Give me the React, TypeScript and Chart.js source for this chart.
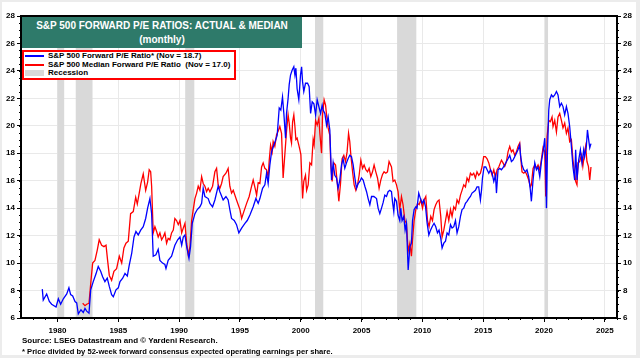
import React, { useEffect, useRef } from "react";
import { Chart, registerables } from "chart.js";

Chart.register(...registerables);

// S&P 500 forward P/E (actual), [decimal year, value]
const forwardPE: [number, number][] = [
  [1978.75,8.1],[1978.83,7.3],[1979.11,7.75],[1979.33,7.2],[1979.52,7.0],[1979.88,6.8],[1980.07,7.4],[1980.26,7.0],[1980.48,7.4],[1980.76,7.75],[1980.94,8.2],[1981.08,7.7],[1981.25,7.6],[1981.44,7.2],[1981.58,7.1],[1981.71,6.3],[1981.93,6.6],[1982.12,6.4],[1982.26,6.7],[1982.40,6.5],[1982.59,6.35],[1982.73,8.05],[1982.94,8.65],[1983.16,9.2],[1983.35,9.75],[1983.55,9.4],[1983.71,9.0],[1983.90,8.65],[1984.09,8.9],[1984.26,8.3],[1984.45,7.7],[1984.59,7.55],[1984.81,8.05],[1985.00,8.2],[1985.14,8.65],[1985.36,8.9],[1985.55,9.25],[1985.74,9.05],[1985.90,9.85],[1986.10,10.7],[1986.29,11.9],[1986.45,12.3],[1986.64,12.05],[1986.84,12.4],[1987.05,12.65],[1987.25,13.25],[1987.41,14.0],[1987.60,14.7],[1987.74,13.6],[1987.87,10.5],[1988.09,10.6],[1988.28,11.0],[1988.42,10.2],[1988.64,10.0],[1988.83,9.9],[1988.92,9.6],[1989.10,10.2],[1989.38,10.5],[1989.65,11.3],[1989.88,11.7],[1990.07,11.9],[1990.21,11.3],[1990.34,11.9],[1990.48,12.05],[1990.62,11.2],[1990.81,10.35],[1990.94,11.2],[1991.08,12.9],[1991.30,13.6],[1991.49,13.9],[1991.71,14.1],[1991.85,14.35],[1991.98,15.45],[1992.12,14.85],[1992.39,14.7],[1992.53,14.35],[1992.75,14.1],[1992.94,14.6],[1993.21,15.6],[1993.35,15.2],[1993.62,14.6],[1993.85,14.85],[1994.03,14.6],[1994.17,13.9],[1994.31,13.25],[1994.53,13.1],[1994.72,12.8],[1994.91,12.2],[1995.14,12.55],[1995.41,12.9],[1995.60,13.1],[1995.82,13.5],[1996.09,14.1],[1996.31,14.7],[1996.50,14.35],[1996.64,14.7],[1996.86,15.45],[1997.05,15.7],[1997.19,16.55],[1997.32,15.8],[1997.46,17.15],[1997.60,18.1],[1997.79,18.6],[1997.93,18.95],[1998.06,19.3],[1998.23,21.3],[1998.36,21.15],[1998.50,22.1],[1998.61,20.9],[1998.75,19.1],[1998.83,20.9],[1998.96,22.0],[1999.05,23.0],[1999.16,23.7],[1999.29,24.05],[1999.43,24.3],[1999.52,23.7],[1999.60,24.2],[1999.70,22.7],[1999.84,21.9],[1999.98,23.7],[2000.07,24.3],[2000.15,23.2],[2000.25,22.5],[2000.39,23.1],[2000.56,23.1],[2000.69,22.85],[2000.81,20.9],[2000.94,21.75],[2001.08,21.6],[2001.22,20.8],[2001.35,21.9],[2001.49,21.4],[2001.63,20.9],[2001.76,21.5],[2001.84,21.15],[2001.98,20.9],[2002.12,20.05],[2002.25,20.65],[2002.39,19.7],[2002.53,16.05],[2002.66,17.3],[2002.80,16.4],[2002.94,16.2],[2003.07,15.45],[2003.21,16.05],[2003.35,17.15],[2003.48,17.6],[2003.62,16.9],[2003.76,17.3],[2003.89,17.6],[2004.03,17.85],[2004.17,17.75],[2004.31,17.15],[2004.45,16.2],[2004.58,15.45],[2004.72,15.8],[2004.86,15.95],[2004.99,16.2],[2005.13,16.05],[2005.27,15.6],[2005.41,15.2],[2005.54,14.7],[2005.68,14.25],[2005.82,14.85],[2006.01,14.85],[2006.23,14.7],[2006.36,14.0],[2006.50,13.6],[2006.64,14.0],[2006.77,14.4],[2006.91,14.95],[2007.05,14.85],[2007.18,15.2],[2007.32,15.3],[2007.46,15.2],[2007.54,14.5],[2007.65,13.75],[2007.73,14.7],[2007.87,14.5],[2008.00,13.5],[2008.14,13.1],[2008.22,14.0],[2008.33,13.1],[2008.47,13.4],[2008.58,12.4],[2008.69,12.9],[2008.83,9.5],[2008.97,11.2],[2009.10,11.45],[2009.19,13.1],[2009.32,13.9],[2009.46,14.1],[2009.56,14.0],[2009.70,15.1],[2009.84,14.7],[2009.98,14.35],[2010.12,14.6],[2010.26,14.1],[2010.39,12.9],[2010.53,12.05],[2010.67,12.4],[2010.80,12.65],[2010.96,12.9],[2011.10,12.65],[2011.24,12.2],[2011.37,12.4],[2011.51,11.8],[2011.62,11.1],[2011.76,11.45],[2011.90,11.6],[2012.03,12.2],[2012.17,12.05],[2012.31,12.8],[2012.44,12.55],[2012.58,12.65],[2012.72,13.1],[2012.85,12.2],[2012.99,12.65],[2013.13,13.4],[2013.26,13.9],[2013.40,14.0],[2013.54,14.35],[2013.67,14.5],[2013.81,14.7],[2013.95,14.85],[2014.08,15.1],[2014.22,15.2],[2014.36,15.3],[2014.49,15.55],[2014.63,15.55],[2014.77,14.6],[2014.86,15.3],[2014.94,16.2],[2015.07,17.0],[2015.21,17.0],[2015.32,16.8],[2015.46,16.55],[2015.60,16.8],[2015.73,16.55],[2015.87,15.95],[2016.01,16.4],[2016.09,15.1],[2016.22,16.8],[2016.36,16.9],[2016.50,16.8],[2016.63,16.95],[2016.77,17.15],[2016.91,17.4],[2017.04,17.6],[2017.18,17.85],[2017.32,17.4],[2017.45,17.5],[2017.59,17.75],[2017.73,18.0],[2017.86,18.25],[2018.00,18.6],[2018.08,17.75],[2018.19,17.15],[2018.33,16.8],[2018.47,16.65],[2018.60,16.8],[2018.74,16.3],[2018.88,15.3],[2018.96,14.5],[2019.10,16.05],[2019.24,17.3],[2019.38,16.8],[2019.51,17.0],[2019.65,16.3],[2019.79,17.4],[2019.92,18.1],[2020.06,19.1],[2020.14,17.3],[2020.20,14.0],[2020.28,18.0],[2020.39,21.15],[2020.47,21.9],[2020.61,22.25],[2020.74,22.1],[2020.88,22.25],[2021.02,22.5],[2021.15,22.25],[2021.29,21.4],[2021.43,21.65],[2021.56,21.4],[2021.70,20.8],[2021.84,21.4],[2021.97,20.9],[2022.11,19.95],[2022.25,18.5],[2022.38,17.0],[2022.52,16.05],[2022.60,18.25],[2022.71,16.05],[2022.85,17.5],[2022.99,18.25],[2023.12,17.3],[2023.26,18.25],[2023.34,17.75],[2023.48,18.5],[2023.57,19.7],[2023.67,19.0],[2023.76,18.4],[2023.86,18.7],
];

// S&P 500 median forward P/E, [decimal year, value]
const medianPE: [number, number][] = [
  [1982.07,7.07],[1982.26,6.9],[1982.40,7.0],[1982.59,7.07],[1982.73,8.5],[1982.89,10.0],[1983.08,10.2],[1983.27,10.95],[1983.43,11.7],[1983.63,11.3],[1983.82,11.2],[1983.99,11.3],[1984.12,10.2],[1984.26,9.1],[1984.45,8.75],[1984.64,9.4],[1984.86,9.6],[1985.08,10.5],[1985.28,10.0],[1985.46,11.1],[1985.63,11.45],[1985.82,11.6],[1986.01,13.6],[1986.23,13.75],[1986.43,14.8],[1986.56,14.3],[1986.72,15.1],[1986.86,15.8],[1987.05,16.5],[1987.25,15.3],[1987.41,15.9],[1987.54,16.8],[1987.66,16.65],[1987.74,15.6],[1987.87,12.2],[1988.01,12.65],[1988.15,12.3],[1988.28,11.9],[1988.42,12.2],[1988.56,11.7],[1988.69,11.9],[1988.83,12.2],[1988.97,11.45],[1989.10,11.8],[1989.24,11.7],[1989.38,12.2],[1989.52,12.4],[1989.65,13.25],[1989.79,13.1],[1989.93,12.8],[1990.07,13.1],[1990.21,12.2],[1990.34,12.55],[1990.48,12.9],[1990.62,11.45],[1990.75,10.6],[1990.89,11.2],[1991.03,13.1],[1991.16,13.9],[1991.30,14.7],[1991.44,15.1],[1991.57,15.6],[1991.71,15.3],[1991.85,16.3],[1991.98,15.8],[1992.12,15.6],[1992.26,15.2],[1992.39,15.45],[1992.53,15.2],[1992.75,15.6],[1992.94,16.65],[1993.08,16.9],[1993.21,15.7],[1993.35,15.45],[1993.49,15.8],[1993.62,16.3],[1993.85,16.55],[1994.03,16.9],[1994.17,15.6],[1994.31,15.1],[1994.45,15.3],[1994.72,14.6],[1995.00,13.9],[1995.14,13.25],[1995.32,13.75],[1995.55,14.35],[1995.76,14.85],[1995.96,15.6],[1996.09,16.05],[1996.29,15.3],[1996.37,14.95],[1996.50,15.85],[1996.64,15.8],[1996.78,17.0],[1996.91,17.3],[1997.05,16.9],[1997.19,16.8],[1997.32,16.3],[1997.41,17.5],[1997.52,18.6],[1997.65,18.1],[1997.73,18.85],[1997.87,18.5],[1998.01,19.35],[1998.14,19.6],[1998.28,19.95],[1998.42,19.45],[1998.55,16.2],[1998.69,17.9],[1998.83,19.6],[1998.96,20.8],[1999.05,20.2],[1999.16,19.1],[1999.24,18.75],[1999.33,20.3],[1999.43,20.8],[1999.52,19.95],[1999.60,19.0],[1999.70,19.1],[1999.84,18.6],[1999.93,18.25],[2000.01,17.9],[2000.15,14.7],[2000.25,15.95],[2000.39,16.4],[2000.48,15.3],[2000.61,15.7],[2000.75,17.3],[2000.89,17.15],[2001.02,19.0],[2001.10,18.6],[2001.22,20.4],[2001.35,20.05],[2001.49,20.55],[2001.57,19.45],[2001.71,18.0],[2001.79,20.8],[2001.92,21.9],[2002.04,21.5],[2002.12,20.8],[2002.25,19.85],[2002.39,19.3],[2002.47,17.15],[2002.58,15.95],[2002.72,17.3],[2002.86,17.15],[2002.99,15.95],[2003.13,14.5],[2003.27,15.8],[2003.40,17.6],[2003.54,17.85],[2003.68,17.4],[2003.81,18.1],[2003.93,19.45],[2004.03,18.85],[2004.12,17.85],[2004.26,16.65],[2004.39,15.7],[2004.53,15.3],[2004.67,15.7],[2004.80,16.4],[2004.94,17.5],[2005.08,16.9],[2005.21,17.15],[2005.35,16.8],[2005.49,16.65],[2005.62,16.9],[2005.76,16.3],[2005.90,16.65],[2006.03,17.15],[2006.17,16.65],[2006.31,16.2],[2006.44,15.45],[2006.58,16.05],[2006.72,16.45],[2006.85,16.65],[2006.99,16.55],[2007.13,16.65],[2007.26,17.4],[2007.32,17.4],[2007.46,17.0],[2007.59,15.95],[2007.73,16.05],[2007.87,15.7],[2008.00,15.2],[2008.14,13.9],[2008.28,14.85],[2008.41,14.25],[2008.56,13.1],[2008.69,12.9],[2008.83,10.85],[2008.97,11.45],[2009.10,10.5],[2009.19,11.7],[2009.32,13.1],[2009.46,13.9],[2009.60,14.35],[2009.73,14.25],[2009.87,14.6],[2010.01,14.0],[2010.14,14.6],[2010.28,14.85],[2010.42,13.1],[2010.55,12.65],[2010.69,13.4],[2010.83,13.1],[2010.96,13.9],[2011.10,14.25],[2011.24,14.5],[2011.37,14.6],[2011.51,13.4],[2011.62,11.9],[2011.76,12.4],[2011.90,13.1],[2012.03,13.75],[2012.17,13.1],[2012.31,13.9],[2012.44,13.4],[2012.58,14.1],[2012.72,13.9],[2012.85,14.6],[2012.99,14.35],[2013.13,14.95],[2013.26,15.3],[2013.40,15.7],[2013.54,15.55],[2013.67,16.2],[2013.81,15.95],[2013.95,16.55],[2014.08,16.4],[2014.22,16.55],[2014.36,16.2],[2014.49,16.65],[2014.63,16.4],[2014.77,16.55],[2014.90,17.0],[2015.04,17.75],[2015.18,17.75],[2015.32,17.6],[2015.46,17.3],[2015.60,16.8],[2015.73,16.4],[2015.87,16.8],[2016.01,16.2],[2016.14,16.8],[2016.28,17.0],[2016.50,17.5],[2016.63,17.3],[2016.77,17.05],[2016.91,17.4],[2017.04,18.1],[2017.18,18.5],[2017.32,18.1],[2017.45,18.25],[2017.59,17.85],[2017.73,18.1],[2017.86,18.5],[2018.00,18.75],[2018.08,17.75],[2018.19,16.65],[2018.33,16.55],[2018.47,16.65],[2018.60,16.4],[2018.74,16.05],[2018.88,15.55],[2018.96,15.7],[2019.10,16.9],[2019.24,17.15],[2019.38,16.9],[2019.51,17.15],[2019.65,16.8],[2019.79,17.6],[2019.92,18.4],[2020.06,18.1],[2020.14,14.85],[2020.25,19.2],[2020.39,20.4],[2020.52,20.3],[2020.66,20.65],[2020.74,19.95],[2020.88,20.4],[2021.02,19.55],[2021.15,20.65],[2021.29,20.9],[2021.43,20.4],[2021.56,19.85],[2021.70,20.2],[2021.84,19.45],[2021.97,19.85],[2022.11,18.85],[2022.25,19.0],[2022.38,17.5],[2022.52,16.55],[2022.60,15.95],[2022.71,15.7],[2022.79,17.3],[2022.93,17.4],[2023.07,17.85],[2023.19,17.05],[2023.34,18.1],[2023.42,18.5],[2023.53,17.4],[2023.65,17.05],[2023.76,16.05],[2023.86,17.0],
];

// NBER recessions (decimal years)
const recessionStarts = [1980.0, 1981.5, 1990.5, 2001.17, 2007.92, 2020.08];
const recessionEnds = [1980.55, 1982.88, 1991.25, 2001.85, 2009.5, 2020.33];

const xTickValues = [1980, 1985, 1990, 1995, 2000, 2005, 2010, 2015, 2020, 2025];
const yMin = 6;
const yMax = 28;
const xMin = 1977;
const xMax = 2026;

const titleLine1 = "S&P 500 FORWARD P/E RATIOS: ACTUAL & MEDIAN";
const titleLine2 = "(monthly)";
const legendActual = "S&P 500 Forward P/E Ratio* (Nov = 18.7)";
const legendMedian = "S&P 500 Median Forward P/E Ratio  (Nov = 17.0)";
const legendRecession = "Recession";
const sourceNote = "Source: LSEG Datastream and \u00A9 Yardeni Research.";
const footNote = "* Price divided by 52-week forward consensus expected operating earnings per share.";

const FONT = "Arial, 'Liberation Sans', Helvetica, sans-serif";
const BLUE = "#0000ff";
const RED = "#ff0000";
const GREY_BAND = "#d9d9d9";

const recessionPlugin = {
  id: "recessions",
  beforeDatasetsDraw(chart: any) {
    const { ctx, chartArea, scales } = chart;
    const xs = scales.x;
    ctx.save();
    ctx.fillStyle = GREY_BAND;
    for (let i = 0; i < recessionStarts.length; i++) {
      const a = xs.getPixelForValue(recessionStarts[i]);
      const b = xs.getPixelForValue(recessionEnds[i]);
      ctx.fillRect(a, chartArea.top, Math.max(1, b - a), chartArea.bottom - chartArea.top);
    }
    ctx.restore();
  },
};

const framePlugin = {
  id: "frame",
  afterDraw(chart: any) {
    const { ctx, chartArea, scales } = chart;
    ctx.save();
    ctx.strokeStyle = "#000";
    ctx.lineWidth = 1;
    const y = scales.y;
    ctx.beginPath();
    for (let v = yMin; v <= yMax; v += 0.5) {
      const py = Math.round(y.getPixelForValue(v)) + 0.5;
      ctx.moveTo(chartArea.left - 2, py);
      ctx.lineTo(chartArea.left, py);
      ctx.moveTo(chartArea.right, py);
      ctx.lineTo(chartArea.right + 2, py);
    }
    const x = scales.x;
    for (let v = 1978; v <= xMax; v += 1) {
      const px = Math.round(x.getPixelForValue(v)) + 0.5;
      ctx.moveTo(px, chartArea.bottom);
      ctx.lineTo(px, chartArea.bottom + 2);
    }
    ctx.stroke();
    ctx.lineWidth = 2;
    ctx.strokeRect(chartArea.left, chartArea.top, chartArea.right - chartArea.left, chartArea.bottom - chartArea.top);
    ctx.restore();
  },
};

export default function App() {
  const canvasRef = useRef<HTMLCanvasElement | null>(null);

  useEffect(() => {
    if (!canvasRef.current) return;
    const tickFont = { family: FONT, size: 8, weight: "bold" as const };
    const chart = new Chart(canvasRef.current, {
      type: "line",
      data: {
        datasets: [
          {
            label: legendActual,
            data: forwardPE.map(([x, y]) => ({ x, y })),
            borderColor: BLUE,
            borderWidth: 1.3,
            pointRadius: 0,
            tension: 0,
            yAxisID: "y",
          },
          {
            label: legendMedian,
            data: medianPE.map(([x, y]) => ({ x, y })),
            borderColor: RED,
            borderWidth: 1.3,
            pointRadius: 0,
            tension: 0,
            yAxisID: "y",
          },
        ],
      },
      options: {
        animation: false,
        responsive: false,
        devicePixelRatio: 1,
        layout: { padding: { top: 16, left: 0, right: 0, bottom: 0 } },
        plugins: { legend: { display: false }, tooltip: { enabled: false } },
        scales: {
          x: {
            type: "linear",
            min: xMin,
            max: xMax,
            afterBuildTicks: (scale: any) => {
              scale.ticks = xTickValues.map((v) => ({ value: v }));
            },
            afterFit: (scale: any) => {
              scale.height = 40;
            },
            ticks: {
              font: tickFont,
              color: "#000",
              padding: 4,
              maxRotation: 0,
              autoSkip: false,
              callback: (v: any) => String(v),
            },
            grid: { color: "#e9e9e9", lineWidth: 1, tickLength: 4, tickColor: "#000" },
            border: { display: true, color: "#000", width: 2 },
          },
          y: {
            type: "linear",
            position: "left",
            min: yMin,
            max: yMax,
            afterFit: (scale: any) => {
              scale.width = 21;
            },
            ticks: { stepSize: 2, font: tickFont, color: "#000", padding: 2 },
            grid: { color: "#e9e9e9", lineWidth: 1, tickLength: 4, tickColor: "#000" },
            border: { display: true, color: "#000", width: 2 },
          },
          y2: {
            type: "linear",
            position: "right",
            min: yMin,
            max: yMax,
            afterFit: (scale: any) => {
              scale.width = 23;
            },
            ticks: { stepSize: 2, font: tickFont, color: "#000", padding: 2 },
            grid: { drawOnChartArea: false, tickLength: 4, tickColor: "#000", color: "#000" },
            border: { display: true, color: "#000", width: 2 },
          },
        },
      },
      plugins: [recessionPlugin, framePlugin],
    } as any);
    return () => chart.destroy();
  }, []);

  const legendRow: React.CSSProperties = {
    display: "flex",
    alignItems: "center",
    height: 8.6,
    lineHeight: "8.6px",
    whiteSpace: "pre",
  };

  return (
    <div
      style={{
        position: "fixed",
        left: 0,
        top: 0,
        width: 640,
        height: 358,
        background: "#ececec",
        fontFamily: FONT,
      }}
    >
      <div style={{ position: "absolute", left: 2, top: 2, width: 634, height: 353, background: "#fff" }} />
      <canvas ref={canvasRef} width={640} height={358} style={{ position: "absolute", left: 0, top: 0, width: 640, height: 358 }} />
      <div
        style={{
          position: "absolute",
          left: 22,
          top: 17,
          width: 280,
          height: 31,
          background: "#2e7a6a",
          color: "#fff",
          fontWeight: "bold",
          fontSize: 10,
          textAlign: "center",
          lineHeight: "14px",
          paddingTop: 2,
          boxSizing: "border-box",
        }}
      >
        <div>{titleLine1}</div>
        <div>{titleLine2}</div>
      </div>
      <div
        style={{
          position: "absolute",
          left: 22,
          top: 50,
          width: 214,
          height: 30,
          border: "2px solid #ff0000",
          boxSizing: "border-box",
          background: "#fff",
          paddingLeft: 1,
          paddingTop: 0,
          fontSize: 8,
          fontWeight: "bold",
          color: "#000",
        }}
      >
        <div style={legendRow}>
          <span style={{ display: "inline-block", width: 19, height: 2, background: BLUE, marginRight: 4 }} />
          {legendActual}
        </div>
        <div style={legendRow}>
          <span style={{ display: "inline-block", width: 19, height: 2, background: RED, marginRight: 4 }} />
          {legendMedian}
        </div>
        <div style={legendRow}>
          <span style={{ display: "inline-block", width: 19, height: 6, background: GREY_BAND, marginRight: 4 }} />
          {legendRecession}
        </div>
      </div>
      <div style={{ position: "absolute", left: 22, top: 336, fontSize: 8, fontWeight: "bold", color: "#000", whiteSpace: "pre" }}>
        {sourceNote}
      </div>
      <div style={{ position: "absolute", left: 22, top: 347, fontSize: 7.6, fontWeight: "bold", color: "#000", whiteSpace: "pre" }}>
        {footNote}
      </div>
    </div>
  );
}
